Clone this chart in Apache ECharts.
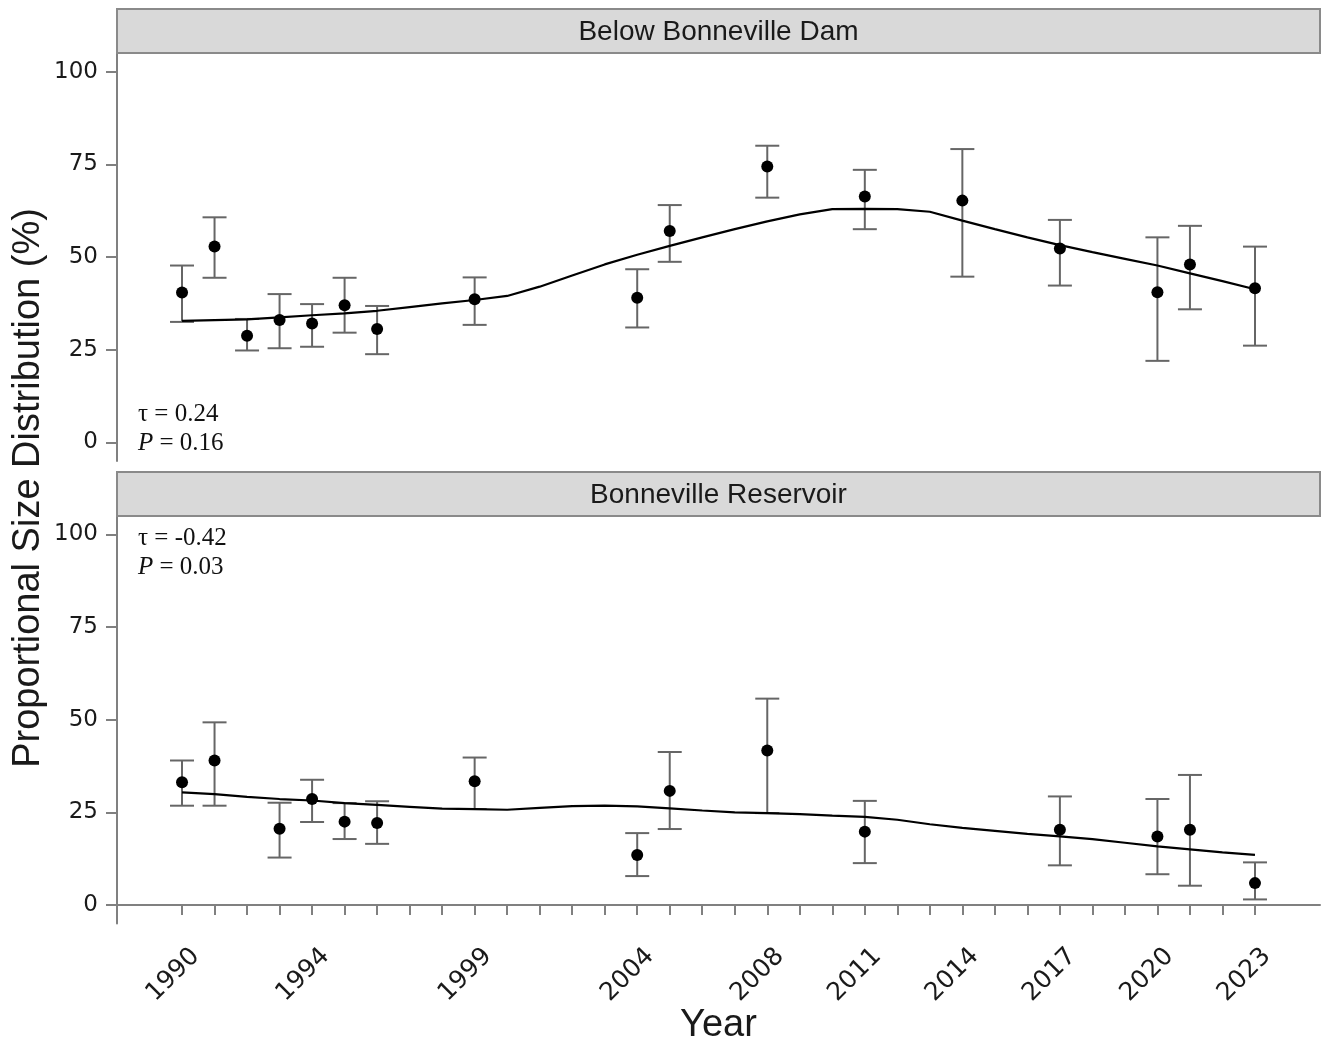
<!DOCTYPE html>
<html>
<head>
<meta charset="utf-8">
<title>Proportional Size Distribution</title>
<script src="https://cdn.jsdelivr.net/npm/echarts@6/dist/echarts.min.js"></script>
<style>
  html, body { margin: 0; padding: 0; background: #fff; }
  #main { width: 1323px; height: 1046px; }
</style>
</head>
<body>
<div id="main"></div>
<script>
// Below Bonneville Dam
var damYears = [1990, 1991, 1992, 1993, 1994, 1995, 1996, 1999, 2004, 2005, 2008, 2011, 2014, 2017, 2020, 2021, 2023];
var damMean  = [40.4, 52.8, 28.8, 33.0, 32.1, 37.0, 30.6, 38.6, 39.0, 57.0, 74.4, 66.3, 65.2, 52.3, 40.5, 48.0, 41.6];
var damLow   = [32.5, 44.4, 24.8, 25.4, 25.8, 29.6, 23.8, 31.7, 31.0, 48.7, 66.0, 57.5, 44.7, 42.3, 22.0, 35.9, 26.1];
var damHigh  = [47.7, 60.7, 33.3, 40.0, 37.3, 44.4, 36.8, 44.5, 46.7, 64.0, 80.0, 73.5, 79.1, 60.0, 55.3, 58.4, 52.8];

// Bonneville Reservoir
var resYears = [1990, 1991, 1993, 1994, 1995, 1996, 1999, 2004, 2005, 2008, 2011, 2017, 2020, 2021, 2023];
var resMean  = [33.1, 39.0, 20.6, 28.6, 22.5, 22.1, 33.4, 13.5, 30.8, 41.7, 19.8, 20.3, 18.5, 20.3, 5.9];
var resLow   = [26.8, 26.8, 12.8, 22.4, 17.8, 16.5, 25.9, 7.8, 20.5, 24.8, 11.3, 10.7, 8.3, 5.2, 1.5];
var resHigh  = [39.0, 49.3, 27.6, 33.8, 27.5, 28.0, 39.8, 19.4, 41.3, 55.7, 28.1, 29.3, 28.6, 35.1, 11.5];

// smoothed trend lines
var trendYears = [1990, 1991, 1992, 1993, 1994, 1995, 1996, 1997, 1998, 1999, 2000, 2001, 2002, 2003, 2004, 2005, 2006,
                  2007, 2008, 2009, 2010, 2011, 2012, 2013, 2014, 2015, 2016, 2017, 2018, 2019, 2020, 2021, 2022, 2023];
var damTrend = [32.8, 33.0, 33.2, 33.7, 34.3, 34.8, 35.5, 36.5, 37.5, 38.4, 39.5, 42.0, 45.0, 48.0, 50.6, 53.0, 55.3,
                57.5, 59.6, 61.5, 62.9, 63.0, 62.9, 62.2, 59.8, 57.5, 55.3, 53.2, 51.3, 49.5, 47.7, 45.6, 43.5, 41.3];
var resTrend = [30.4, 29.9, 29.2, 28.6, 28.2, 27.5, 27.0, 26.5, 26.0, 25.9, 25.7, 26.2, 26.7, 26.8, 26.6, 26.1, 25.5,
                25.0, 24.8, 24.5, 24.1, 23.8, 23.0, 21.8, 20.8, 20.0, 19.2, 18.5, 17.8, 16.8, 15.8, 15.0, 14.2, 13.5];

var labelYears = [1990, 1994, 1999, 2004, 2008, 2011, 2014, 2017, 2020, 2023];
var yTicks = [0, 25, 50, 75, 100];
var panelNames = ['Below Bonneville Dam', 'Bonneville Reservoir'];
var stats = [['0.24', '0.16'], ['-0.42', '0.03']];

var allYears = [];
for (var y = labelYears[0]; y <= labelYears[labelYears.length - 1]; y++) allYears.push(y);

function zip(xs, a, b) {
    return xs.map(function (x, i) { return b ? [x, a[i], b[i]] : [x, a[i]]; });
}

var axisGray = '#808080';
var barGray = '#666666';

function errorBars(params, api) {
    var top = api.coord([api.value(0), api.value(2)]);
    var bot = api.coord([api.value(0), api.value(1)]);
    var w = 12;
    var st = { stroke: barGray, lineWidth: 2 };
    return {
        type: 'group',
        children: [
            { type: 'line', shape: { x1: top[0], y1: top[1], x2: bot[0], y2: bot[1] }, style: st },
            { type: 'line', shape: { x1: top[0] - w, y1: top[1], x2: top[0] + w, y2: top[1] }, style: st },
            { type: 'line', shape: { x1: bot[0] - w, y1: bot[1], x2: bot[0] + w, y2: bot[1] }, style: st }
        ]
    };
}

var L = 117, W = 1203;
var grids = [
    { left: L, top: 53, width: W, height: 408 },
    { left: L, top: 516, width: W, height: 407.5 },
    { left: L + 5, top: 516, width: W, height: 407.5 }   // only carries the slanted year labels
];

function yAxisFor(i) {
    return {
        type: 'value', gridIndex: i, min: -5, max: 105,
        axisLine: { show: true, lineStyle: { color: axisGray, width: 2 } },
        axisTick: { show: true, length: 11, customValues: yTicks, lineStyle: { color: axisGray, width: 2 } },
        axisLabel: { customValues: yTicks, margin: 19, fontFamily: 'DejaVu Sans', fontSize: 23, color: '#1a1a1a' },
        splitLine: { show: false }
    };
}

var option = {
    animation: false,
    backgroundColor: '#fff',
    grid: grids,
    xAxis: [
        { type: 'value', gridIndex: 0, min: 1988, max: 2025,
          axisLine: { show: false }, axisTick: { show: false }, axisLabel: { show: false }, splitLine: { show: false } },
        { type: 'value', gridIndex: 1, min: 1988, max: 2025,
          name: 'Year', nameLocation: 'middle', nameGap: 102,
          nameTextStyle: { fontFamily: 'Liberation Sans, Arial', fontSize: 38, color: '#1a1a1a', verticalAlign: 'middle' },
          axisLine: { show: true, lineStyle: { color: axisGray, width: 2 } },
          axisTick: { show: true, length: 10, customValues: allYears, lineStyle: { color: axisGray, width: 2 } },
          axisLabel: { show: false }, splitLine: { show: false } },
        { type: 'value', gridIndex: 2, min: 1988, max: 2025,
          axisLine: { show: false }, axisTick: { show: false }, splitLine: { show: false },
          axisLabel: { customValues: labelYears, rotate: 45, align: 'right', verticalAlign: 'top', margin: 20,
                       formatter: function (v) { return String(v); },
                       fontFamily: 'DejaVu Sans', fontSize: 25, color: '#1a1a1a' } }
    ],
    yAxis: [
        yAxisFor(0),
        yAxisFor(1),
        { type: 'value', gridIndex: 2, min: -5, max: 105, show: false, splitLine: { show: false } }
    ],
    graphic: [],
    series: [
        { type: 'custom', xAxisIndex: 0, yAxisIndex: 0, renderItem: errorBars, encode: { x: 0, y: [1, 2] },
          data: zip(damYears, damLow, damHigh), z: 2 },
        { type: 'line', xAxisIndex: 0, yAxisIndex: 0, data: zip(trendYears, damTrend), showSymbol: false,
          lineStyle: { color: '#000', width: 2.2 }, z: 3 },
        { type: 'scatter', xAxisIndex: 0, yAxisIndex: 0, data: zip(damYears, damMean), symbolSize: 12,
          itemStyle: { color: '#000', opacity: 1 }, z: 4 },
        { type: 'custom', xAxisIndex: 1, yAxisIndex: 1, renderItem: errorBars, encode: { x: 0, y: [1, 2] },
          data: zip(resYears, resLow, resHigh), z: 2 },
        { type: 'line', xAxisIndex: 1, yAxisIndex: 1, data: zip(trendYears, resTrend), showSymbol: false,
          lineStyle: { color: '#000', width: 2.2 }, z: 3 },
        { type: 'scatter', xAxisIndex: 1, yAxisIndex: 1, data: zip(resYears, resMean), symbolSize: 12,
          itemStyle: { color: '#000', opacity: 1 }, z: 4 }
    ]
};

// facet strips
var stripTops = [9, 472];
panelNames.forEach(function (name, i) {
    option.graphic.push({
        type: 'rect', shape: { x: L, y: stripTops[i], width: W, height: 44 },
        style: { fill: '#d9d9d9', stroke: '#8a8a8a', lineWidth: 2 }, z: 10
    });
    option.graphic.push({
        type: 'text', x: L + W / 2, y: stripTops[i] + 23,
        style: { text: name, font: '28px "Liberation Sans", Arial, sans-serif', fill: '#1a1a1a',
                 textAlign: 'center', textVerticalAlign: 'middle' }, z: 11
    });
});

// Kendall tau annotations
var statY = [414, 538];
stats.forEach(function (s, i) {
    option.graphic.push({
        type: 'text', x: 138, y: statY[i],
        style: { text: '\u03c4 = ' + s[0], font: '25px "Liberation Serif", "Times New Roman", serif', fill: '#111',
                 textAlign: 'left', textVerticalAlign: 'middle' }, z: 11
    });
    option.graphic.push({
        type: 'text', x: 138, y: statY[i] + 29,
        style: { text: '{i|P} = ' + s[1], font: '25px "Liberation Serif", "Times New Roman", serif', fill: '#111',
                 textAlign: 'left', textVerticalAlign: 'middle',
                 rich: { i: { fontStyle: 'italic', fontFamily: 'Liberation Serif', fontSize: 25 } } }, z: 11
    });
});

// y axis title
option.graphic.push({
    type: 'text', x: 29, y: 488, rotation: Math.PI / 2,
    style: { text: 'Proportional Size Distribution (%)', font: '38px "Liberation Sans", Arial, sans-serif',
             fill: '#1a1a1a', textAlign: 'center', textVerticalAlign: 'middle' }, z: 11
});

var myChart = echarts.init(document.getElementById('main'));
myChart.setOption(option);
</script>
</body>
</html>
